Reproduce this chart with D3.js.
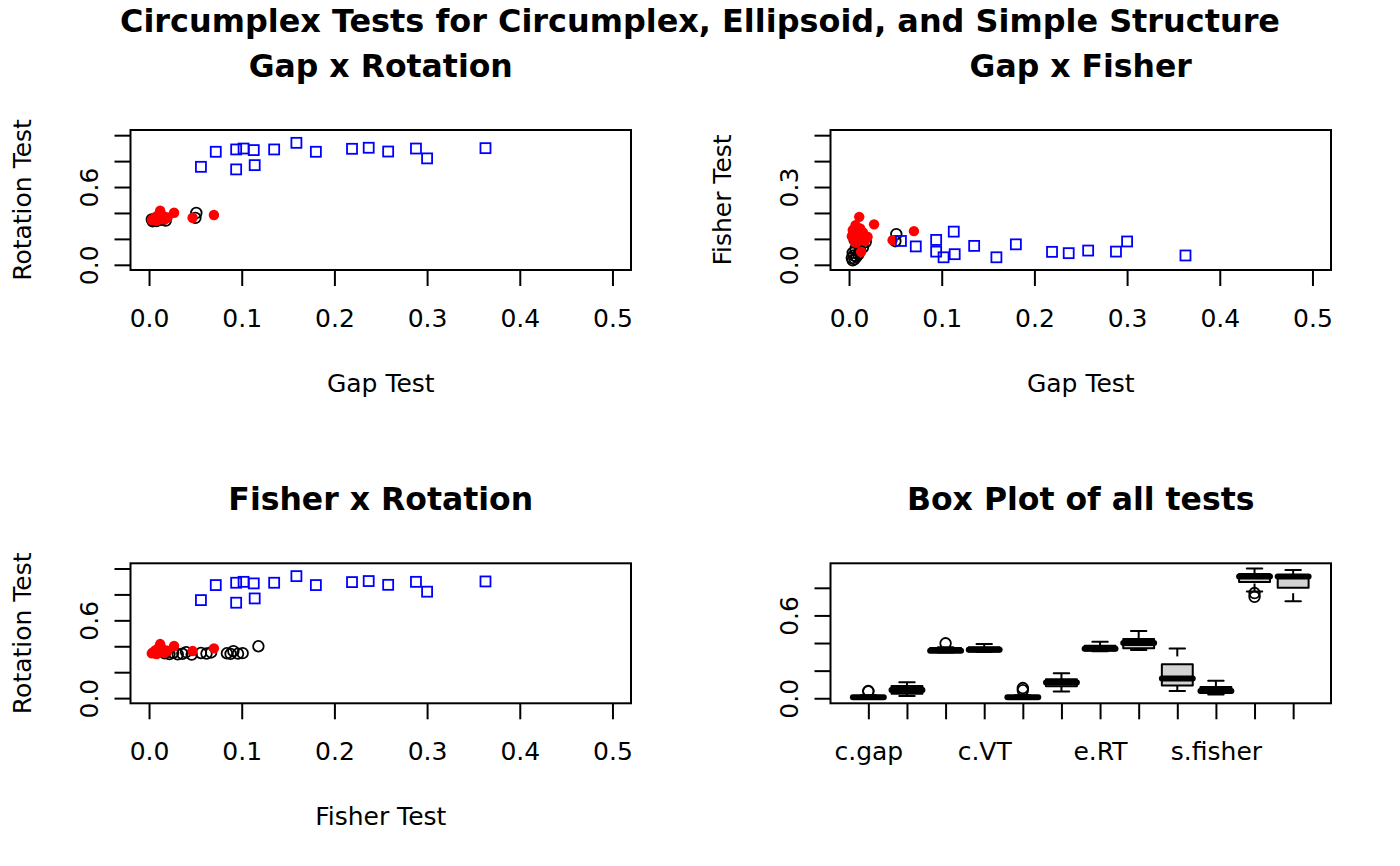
<!DOCTYPE html>
<html>
<head>
<meta charset="utf-8">
<script src="https://cdn.jsdelivr.net/npm/d3@7"></script>
<style>
  body { margin: 0; background: #fff; }
  svg text { font-family: "DejaVu Sans", sans-serif; fill: #000; }
</style>
</head>
<body>
<svg id="chart"></svg>
<script>
// circumplex simulations (black open circles)
const cGap    = [0.004, 0.006, 0.003, 0.008, 0.005, 0.010, 0.004, 0.012, 0.007, 0.015, 0.009, 0.018, 0.050, 0.006, 0.011, 0.051];
const cFisher = [0.017, 0.022, 0.026, 0.031, 0.036, 0.040, 0.046, 0.056, 0.062, 0.067, 0.084, 0.088, 0.091, 0.096, 0.101, 0.118];
const cRT     = [0.345, 0.340, 0.350, 0.338, 0.342, 0.355, 0.336, 0.348, 0.344, 0.352, 0.346, 0.341, 0.362, 0.343, 0.347, 0.400];

// ellipsoid simulations (red filled circles)
const eGap    = [0.003, 0.004, 0.006, 0.007, 0.008, 0.009, 0.010, 0.011, 0.012, 0.013, 0.015, 0.017, 0.020, 0.027, 0.047, 0.070];
const eFisher = [0.110, 0.134, 0.090, 0.153, 0.085, 0.120, 0.100, 0.185, 0.140, 0.050, 0.125, 0.092, 0.108, 0.156, 0.095, 0.130];
const eRT     = [0.345, 0.352, 0.358, 0.370, 0.340, 0.362, 0.348, 0.395, 0.417, 0.355, 0.378, 0.350, 0.365, 0.402, 0.363, 0.384];

// simple structure simulations (blue squares)
const sGap    = [0.056, 0.072, 0.094, 0.094, 0.102, 0.113, 0.114, 0.135, 0.159, 0.180, 0.219, 0.237, 0.258, 0.288, 0.300, 0.363];
const sFisher = [0.092, 0.071, 0.096, 0.051, 0.029, 0.128, 0.041, 0.073, 0.029, 0.079, 0.050, 0.045, 0.055, 0.051, 0.090, 0.036];
const sRT     = [0.756, 0.872, 0.890, 0.736, 0.897, 0.885, 0.769, 0.890, 0.941, 0.872, 0.895, 0.903, 0.874, 0.897, 0.821, 0.900];

// box plot of all tests
const boxNames = ["c.gap", "c.fisher", "c.RT", "c.VT", "e.gap", "e.fisher", "e.RT", "e.VT", "s.gap", "s.fisher", "s.RT", "s.VT"];
const boxLo    = [0.001, 0.017, 0.332, 0.335, 0.001, 0.049, 0.340, 0.349, 0.053, 0.028, 0.773, 0.703];
const boxQ1    = [0.003, 0.0335, 0.337, 0.338, 0.003, 0.087, 0.346, 0.362, 0.092, 0.040, 0.842, 0.800];
const boxMed   = [0.007, 0.060, 0.345, 0.352, 0.008, 0.114, 0.358, 0.400, 0.143, 0.053, 0.882, 0.882];
const boxQ3    = [0.014, 0.0895, 0.364, 0.370, 0.015, 0.138, 0.381, 0.430, 0.247, 0.082, 0.900, 0.889];
const boxHi    = [0.022, 0.116, 0.370, 0.393, 0.022, 0.182, 0.410, 0.487, 0.361, 0.126, 0.940, 0.929];
const boxOut   = [[0.050, 0.052], [], [0.398], [], [0.058, 0.074], [], [], [], [], [], [0.762, 0.735], []];
const boxLabelAt = [1, 4, 7, 10];

// axis ticks and the ones R kept a label for
const gapTicks = [0, 0.1, 0.2, 0.3, 0.4, 0.5];
const rotTicks = [0, 0.2, 0.4, 0.6, 0.8, 1.0];
const rotLabeled = [0, 0.6];
const fisherTicks = [0, 0.1, 0.2, 0.3, 0.4, 0.5];
const fisherLabeled = [0, 0.3];
const boxYTicks = [0, 0.2, 0.4, 0.6, 0.8];
const boxYLabeled = [0, 0.6];

const W = 1400, H = 866;
const cellW = 700, cellH = 433.3;
const box = { left: 130.5, right: 631, top: 130, bottom: 270 };
const fmt = d3.format(".1f");

const svg = d3.select("#chart").attr("width", W).attr("height", H);
svg.append("rect").attr("width", W).attr("height", H).attr("fill", "#fff");

// R pads the axis limits by 4% on each side
function pad(lim) {
    const d = (lim[1] - lim[0]) * 0.04;
    return [lim[0] - d, lim[1] + d];
}

function styleAxis(g) {
    g.attr("font-family", null).attr("font-size", null);
    g.select(".domain").remove();
    g.selectAll(".tick line").attr("stroke", "#000").attr("stroke-width", 2);
}

function xAxis(g, scale, ticks, format) {
    g.append("g")
        .attr("transform", `translate(0,${box.bottom})`)
        .call(d3.axisBottom(scale).tickValues(ticks).tickSize(16).tickFormat(format))
        .call(styleAxis)
        .selectAll("text")
        .attr("y", 57).attr("dy", null)
        .attr("font-size", 25);
}

function yAxis(g, scale, ticks, labeled) {
    g.append("g")
        .attr("transform", `translate(${box.left},0)`)
        .call(d3.axisLeft(scale).tickValues(ticks).tickSize(16)
            .tickFormat(d => labeled.includes(d) ? fmt(d) : ""))
        .call(styleAxis)
        .selectAll("text")
        .attr("x", null).attr("dy", null)
        .attr("text-anchor", "middle")
        .attr("transform", "translate(-33,0) rotate(-90)")
        .attr("font-size", 25);
}

function frame(g, title) {
    g.append("rect")
        .attr("x", box.left).attr("y", box.top)
        .attr("width", box.right - box.left).attr("height", box.bottom - box.top)
        .attr("fill", "none").attr("stroke", "#000").attr("stroke-width", 2);
    g.append("text")
        .attr("x", (box.left + box.right) / 2).attr("y", 77)
        .attr("text-anchor", "middle")
        .attr("font-size", 31.5).attr("font-weight", "bold")
        .text(title);
}

function scatter(col, row, opt) {
    const g = svg.append("g").attr("transform", `translate(${col * cellW},${row * cellH})`);
    const x = d3.scaleLinear().domain(pad([0, 0.5])).range([box.left, box.right]);
    const y = d3.scaleLinear().domain(pad(opt.ylim)).range([box.bottom, box.top]);

    g.append("g").selectAll("circle")
        .data(d3.zip(opt.c[0], opt.c[1]))
        .join("circle")
        .attr("cx", d => x(d[0])).attr("cy", d => y(d[1])).attr("r", 5.3)
        .attr("fill", "none").attr("stroke", "#000").attr("stroke-width", 1.8);

    g.append("g").selectAll("circle")
        .data(d3.zip(opt.e[0], opt.e[1]))
        .join("circle")
        .attr("cx", d => x(d[0])).attr("cy", d => y(d[1])).attr("r", 5.2)
        .attr("fill", "#ff0000");

    g.append("g").selectAll("rect")
        .data(d3.zip(opt.s[0], opt.s[1]))
        .join("rect")
        .attr("x", d => x(d[0]) - 5).attr("y", d => y(d[1]) - 5)
        .attr("width", 10).attr("height", 10)
        .attr("fill", "none").attr("stroke", "#0000ff").attr("stroke-width", 1.8);

    xAxis(g, x, gapTicks, fmt);
    yAxis(g, y, opt.yticks, opt.ylabeled);
    frame(g, opt.title);

    g.append("text")
        .attr("x", (box.left + box.right) / 2).attr("y", 392)
        .attr("text-anchor", "middle").attr("font-size", 25)
        .text(opt.xlab);
    g.append("text")
        .attr("transform", `translate(31,${(box.top + box.bottom) / 2}) rotate(-90)`)
        .attr("text-anchor", "middle").attr("font-size", 25)
        .text(opt.ylab);
}

function boxplot(col, row) {
    const g = svg.append("g").attr("transform", `translate(${col * cellW},${row * cellH})`);
    const n = boxNames.length;
    const idx = d3.range(1, n + 1);
    const allVals = boxLo.concat(boxHi, boxOut.flat());
    const x = d3.scaleLinear().domain(pad([0.5, n + 0.5])).range([box.left, box.right]);
    const y = d3.scaleLinear().domain(pad(d3.extent(allVals))).range([box.bottom, box.top]);
    const bw = (x(1) - x(0)) * 0.8;

    const stats = idx.map(i => ({
        i, lo: boxLo[i - 1], q1: boxQ1[i - 1], med: boxMed[i - 1],
        q3: boxQ3[i - 1], hi: boxHi[i - 1], out: boxOut[i - 1]
    }));

    const b = g.append("g").selectAll("g").data(stats).join("g");

    // whiskers are drawn from the extreme towards the hinge, dashed
    b.append("line")
        .attr("x1", d => x(d.i)).attr("x2", d => x(d.i))
        .attr("y1", d => y(d.lo)).attr("y2", d => y(d.q1))
        .attr("stroke", "#000").attr("stroke-width", 2).attr("stroke-dasharray", "8,8");
    b.append("line")
        .attr("x1", d => x(d.i)).attr("x2", d => x(d.i))
        .attr("y1", d => y(d.hi)).attr("y2", d => y(d.q3))
        .attr("stroke", "#000").attr("stroke-width", 2).attr("stroke-dasharray", "8,8");

    // staples
    ["lo", "hi"].forEach(k => {
        b.append("line")
            .attr("x1", d => x(d.i) - bw / 4).attr("x2", d => x(d.i) + bw / 4)
            .attr("y1", d => y(d[k])).attr("y2", d => y(d[k]))
            .attr("stroke", "#000").attr("stroke-width", 2).attr("stroke-linecap", "round");
    });

    b.append("rect")
        .attr("x", d => x(d.i) - bw / 2).attr("width", bw)
        .attr("y", d => y(d.q3)).attr("height", d => y(d.q1) - y(d.q3))
        .attr("fill", "#d3d3d3").attr("stroke", "#000").attr("stroke-width", 2)
        .attr("stroke-linejoin", "round");

    b.append("line")
        .attr("x1", d => x(d.i) - bw / 2).attr("x2", d => x(d.i) + bw / 2)
        .attr("y1", d => y(d.med)).attr("y2", d => y(d.med))
        .attr("stroke", "#000").attr("stroke-width", 6).attr("stroke-linecap", "round");

    b.selectAll("circle")
        .data(d => d.out.map(v => ({ i: d.i, v })))
        .join("circle")
        .attr("cx", d => x(d.i)).attr("cy", d => y(d.v)).attr("r", 5.3)
        .attr("fill", "none").attr("stroke", "#000").attr("stroke-width", 1.8);

    xAxis(g, x, idx, i => boxLabelAt.includes(i) ? boxNames[i - 1] : "");
    yAxis(g, y, boxYTicks, boxYLabeled);
    frame(g, "Box Plot of all tests");
}

svg.append("text")
    .attr("x", W / 2).attr("y", 32)
    .attr("text-anchor", "middle")
    .attr("font-size", 31.9).attr("font-weight", "bold")
    .text("Circumplex Tests for Circumplex, Ellipsoid, and Simple Structure");

scatter(0, 0, {
    title: "Gap x Rotation", xlab: "Gap Test", ylab: "Rotation Test",
    ylim: [0, 1], yticks: rotTicks, ylabeled: rotLabeled,
    c: [cGap, cRT], e: [eGap, eRT], s: [sGap, sRT]
});
scatter(1, 0, {
    title: "Gap x Fisher", xlab: "Gap Test", ylab: "Fisher Test",
    ylim: [0, 0.5], yticks: fisherTicks, ylabeled: fisherLabeled,
    c: [cGap, cFisher], e: [eGap, eFisher], s: [sGap, sFisher]
});
// the original plot puts the ellipsoid and simple points at their gap values here
scatter(0, 1, {
    title: "Fisher x Rotation", xlab: "Fisher Test", ylab: "Rotation Test",
    ylim: [0, 1], yticks: rotTicks, ylabeled: rotLabeled,
    c: [cFisher, cRT], e: [eGap, eRT], s: [sGap, sRT]
});
boxplot(1, 1);
</script>
</body>
</html>
